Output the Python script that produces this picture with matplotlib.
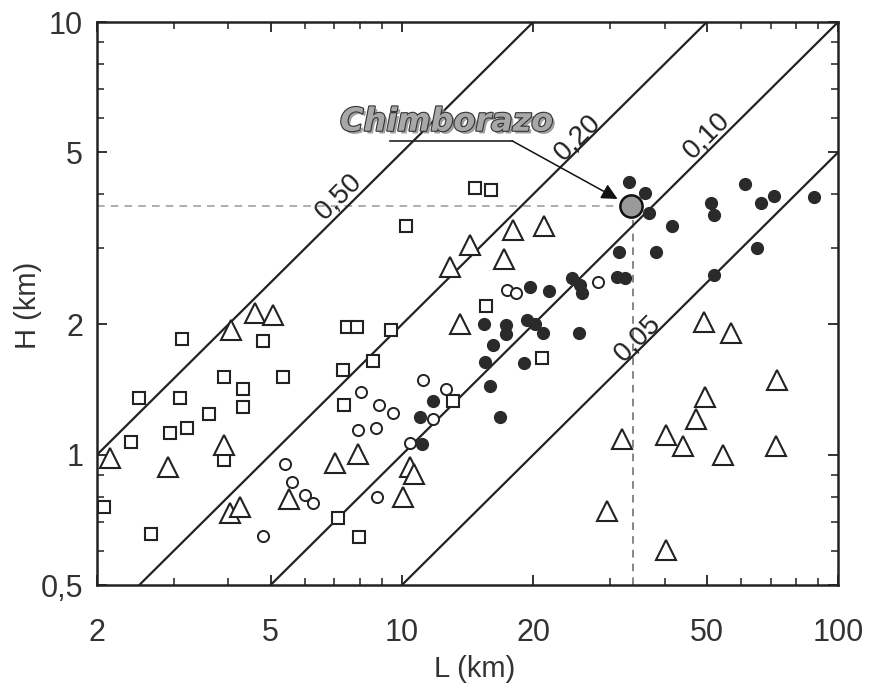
import matplotlib
matplotlib.use("Agg")
import matplotlib.pyplot as plt
import matplotlib.patheffects as pe
import numpy as np

plt.rcParams['font.family'] = ['Liberation Sans', 'DejaVu Sans']

# ---- data (L km, H km) ----
sq_L = [14.7, 16.0, 10.2, 3.13, 4.81, 7.49, 7.90, 9.45, 2.50, 3.10, 3.91, 4.32, 4.32, 5.35,
        3.62, 3.21, 2.94, 2.39, 3.91, 2.07, 2.66, 7.32, 8.58, 7.35, 7.15, 7.99, 15.6, 20.9, 13.1]
sq_H = [4.13, 4.09, 3.38, 1.85, 1.83, 1.97, 1.97, 1.94, 1.35, 1.35, 1.51, 1.42, 1.29, 1.51,
        1.24, 1.15, 1.12, 1.07, 0.972, 0.758, 0.656, 1.57, 1.65, 1.30, 0.715, 0.646, 2.21, 1.67, 1.33]

tri_L = [2.14, 2.91, 3.90, 4.04, 4.26, 4.61, 5.07, 4.06, 7.03, 7.95, 5.52, 10.05, 10.45, 10.67,
         12.9, 14.3, 17.1, 18.0, 21.2, 13.6, 49.2, 56.8, 72.4, 49.6, 47.1, 40.2, 31.9, 44.1,
         54.4, 72.2, 29.5, 40.2]
tri_H = [0.983, 0.938, 1.053, 0.733, 0.758, 2.13, 2.10, 1.94, 0.955, 1.004, 0.789, 0.80, 0.938, 0.902,
         2.72, 3.05, 2.84, 3.31, 3.38, 2.01, 2.03, 1.91, 1.49, 1.36, 1.21, 1.11, 1.09, 1.05,
         0.998, 1.047, 0.741, 0.603]

oc_L = [8.05, 8.88, 9.53, 7.95, 8.73, 5.40, 5.59, 6.00, 6.27, 4.81, 8.79, 10.45, 11.2, 12.6,
        11.8, 17.4, 18.3, 28.2]
oc_H = [1.40, 1.30, 1.25, 1.14, 1.15, 0.95, 0.866, 0.807, 0.774, 0.649, 0.80, 1.066, 1.49, 1.42,
        1.21, 2.40, 2.36, 2.51]

fc_L = [33.1, 36.1, 36.8, 41.6, 38.3, 31.4, 31.1, 32.5, 24.5, 25.6, 25.9, 25.4, 19.7, 21.7,
        15.4, 17.3, 17.3, 19.3, 20.2, 21.1, 16.2, 15.5, 19.0, 15.9, 11.8, 11.0, 16.8, 11.1,
        51.2, 51.8, 61.3, 66.6, 71.2, 88.2, 65.2, 51.8]
fc_H = [4.26, 4.02, 3.61, 3.37, 2.94, 2.94, 2.58, 2.56, 2.56, 2.47, 2.36, 1.91, 2.44, 2.39,
        2.00, 1.99, 1.90, 2.05, 2.00, 1.91, 1.79, 1.64, 1.63, 1.44, 1.33, 1.22, 1.22, 1.06,
        3.81, 3.58, 4.22, 3.82, 3.96, 3.95, 3.00, 2.60]

chim_L, chim_H = 33.5, 3.75

ratios = [0.50, 0.20, 0.10, 0.05]
ratio_labels = ['0,50', '0,20', '0,10', '0,05']
ratio_label_pos = [(0.3266, 0.691), (0.648, 0.7957), (0.823, 0.799), (0.730, 0.4387)]

xticks = [2, 5, 10, 20, 50, 100]
xticklabels = ['2', '5', '10', '20', '50', '100']
yticks = [0.5, 1, 2, 5, 10]
yticklabels = ['0,5', '1', '2', '5', '10']

# ---- figure ----
fig = plt.figure(figsize=(8.74, 6.92), dpi=100)
ax = fig.add_axes([0.111, 0.1546, 0.848, 0.8136])
ax.set_xscale('log')
ax.set_yscale('log')
ax.set_xlim(2, 100)
ax.set_ylim(0.5, 10)

# ratio lines
Lr = np.array([1.0, 200.0])
for r in ratios:
    ax.plot(Lr, r * Lr, color='#222222', lw=1.6, zorder=2)
for lab, (fx, fy) in zip(ratio_labels, ratio_label_pos):
    ax.text(fx, fy, lab, transform=ax.transAxes, rotation=44.8, fontsize=20,
            ha='center', va='center', color='#222222', zorder=3)

# dashed guides
ax.plot([2, chim_L], [chim_H, chim_H], ls=(0, (5, 4)), color='#999999', lw=1.1, zorder=1)
ax.plot([chim_L * 1.01, chim_L * 1.01], [0.5, chim_H], ls=(0, (5, 4)), color='#666666', lw=1.1, zorder=1)

# markers
ax.plot(sq_L, sq_H, ls='none', marker='s', ms=8, mfc='white', mec='#222222', mew=1.5, zorder=4)
ax.plot(tri_L, tri_H, ls='none', marker='^', ms=14, mfc='white', mec='#222222', mew=1.5, zorder=4)
ax.plot(oc_L, oc_H, ls='none', marker='o', ms=8, mfc='white', mec='#222222', mew=1.4, zorder=4)
ax.plot(fc_L, fc_H, ls='none', marker='o', ms=8.5, mfc='#2a2a2a', mec='#2a2a2a', mew=1, zorder=4)
ax.plot([chim_L], [chim_H], ls='none', marker='o', ms=16, mfc='#9a9a9a', mec='#111111', mew=1.8, zorder=6)

# Chimborazo label
t = ax.text(0.472, 0.822, 'Chimborazo', transform=ax.transAxes, fontsize=23,
            fontweight='bold', fontstyle='italic', family='DejaVu Sans',
            ha='center', va='center', color='#a8a8a8', zorder=7)
t.set_path_effects([pe.withSimplePatchShadow(offset=(2, -2), shadow_rgbFace='#888888', alpha=0.8),
                    pe.Stroke(linewidth=1.6, foreground='#333333'), pe.Normal()])
ax.plot([0.395, 0.560], [0.789, 0.789], transform=ax.transAxes, color='#222222', lw=1.2, zorder=7)
ax.annotate('', xy=(chim_L, chim_H), xycoords='data', xytext=(0.560, 0.789),
            textcoords='axes fraction',
            arrowprops=dict(arrowstyle='-|>', color='#111111', lw=1.1, shrinkA=0, shrinkB=11,
                            mutation_scale=24), zorder=7)

# axes styling
ax.set_xticks(xticks)
ax.set_xticklabels(xticklabels)
ax.set_yticks(yticks)
ax.set_yticklabels(yticklabels)
ax.tick_params(which='both', direction='in', top=True, right=True, color='#222222')
ax.tick_params(which='major', length=7, width=1.3, labelsize=22, labelcolor='#333333')
ax.tick_params(axis='x', which='major', pad=24)
ax.tick_params(axis='y', which='major', pad=10)
ax.tick_params(which='minor', length=5, width=1.1, labelleft=False, labelbottom=False)
for s in ax.spines.values():
    s.set_linewidth(1.8)
    s.set_color('#222222')
ax.set_xlabel('L (km)', fontsize=21, color='#333333')
ax.set_ylabel('H (km)', fontsize=21, color='#333333')
ax.xaxis.set_label_coords(0.51, -0.124)
ax.yaxis.set_label_coords(-0.0742, 0.497)

fig.savefig('out.png', dpi=100)
